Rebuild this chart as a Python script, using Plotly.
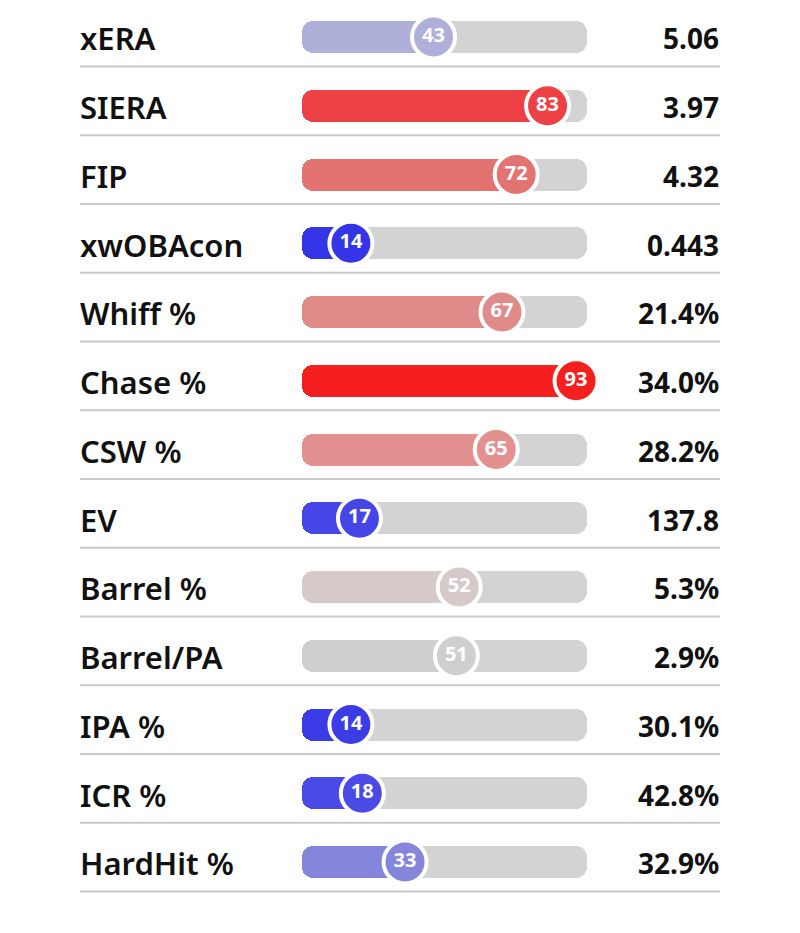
import plotly.graph_objects as go

# ---------------- data ----------------
metrics = ["xERA", "SIERA", "FIP", "xwOBAcon", "Whiff %", "Chase %", "CSW %",
           "EV", "Barrel %", "Barrel/PA", "IPA %", "ICR %", "HardHit %"]
percentiles = [43, 83, 72, 14, 67, 93, 65, 17, 52, 51, 14, 18, 33]
values = ["5.06", "3.97", "4.32", "0.443", "21.4%", "34.0%", "28.2%",
          "137.8", "5.3%", "2.9%", "30.1%", "42.8%", "32.9%"]
colors = ["#AEB0DA", "#EE4146", "#E37371", "#3535E8", "#E08A89", "#F61F1F",
          "#E39090", "#4646E8", "#D6C9CA", "#CFCFCF", "#3C3CE6", "#4A4AE6",
          "#8585DC"]

# ---------------- layout constants ----------------
W, H = 800, 933
PX0, PXU = 311.0, 2.85          # pixel of percentile 0, pixels per percentile
ROW0, ROWH = 37.0, 68.75        # pixel center of first row, row pitch
TRACK_START, TRACK_END = -3.2, 96.8
TRACK_COLOR = "#D3D3D3"
BAR_W = 32 / ROWH
LABEL_X = (78 - PX0) / PXU
VALUE_X = (721 - PX0) / PXU
RADIUS = 11

rows = list(range(len(metrics)))

fig = go.Figure()

# track
fig.add_trace(go.Bar(
    y=rows, x=[TRACK_END - TRACK_START] * len(rows), base=[TRACK_START] * len(rows),
    orientation="h", width=BAR_W,
    marker=dict(color=TRACK_COLOR, cornerradius=RADIUS, line_width=0),
    hoverinfo="skip", showlegend=False))

# filled part: from the percentile back to the track start (rounded left end)
fig.add_trace(go.Bar(
    y=rows, x=[TRACK_START - p for p in percentiles], base=percentiles,
    orientation="h", width=BAR_W,
    marker=dict(color=colors, cornerradius=RADIUS, line_width=0),
    hoverinfo="skip", showlegend=False))

# circles with the percentile
fig.add_trace(go.Scatter(
    x=percentiles, y=rows, mode="markers+text",
    marker=dict(size=43, color=colors, line=dict(color="white", width=4)),
    text=[str(p) for p in percentiles], textposition="middle center",
    textfont=dict(family="Noto Sans", size=20, color="white", weight="bold"),
    hoverinfo="skip", showlegend=False, cliponaxis=False))

shapes = []
for i in rows:
    shapes.append(dict(type="line", xref="x", yref="y", x0=(80 - PX0) / PXU, x1=(720 - PX0) / PXU,
                       y0=i + 0.43, y1=i + 0.43, line=dict(color="#CACACA", width=2),
                       layer="below"))

annotations = []
for i, (m, v) in enumerate(zip(metrics, values)):
    annotations.append(dict(x=LABEL_X, y=i + 0.02, xref="x", yref="y", text=m,
                            showarrow=False, xanchor="left", yanchor="middle",
                            font=dict(family="Noto Sans", size=31, color="#111111", weight=600)))
    annotations.append(dict(x=VALUE_X, y=i + 0.02, xref="x", yref="y", text=v,
                            showarrow=False, xanchor="right", yanchor="middle",
                            font=dict(family="Noto Sans", size=28, color="#111111", weight="bold")))

fig.update_layout(
    width=W, height=H, margin=dict(l=0, r=0, t=0, b=0),
    paper_bgcolor="white", plot_bgcolor="white",
    barmode="overlay", bargap=0,
    xaxis=dict(range=[-PX0 / PXU, (W - PX0) / PXU], visible=False, fixedrange=True),
    yaxis=dict(range=[(H - ROW0) / ROWH, -ROW0 / ROWH], visible=False, fixedrange=True),
    shapes=shapes, annotations=annotations, hovermode=False,
)

fig.write_html("out.html", config={"displayModeBar": False})
